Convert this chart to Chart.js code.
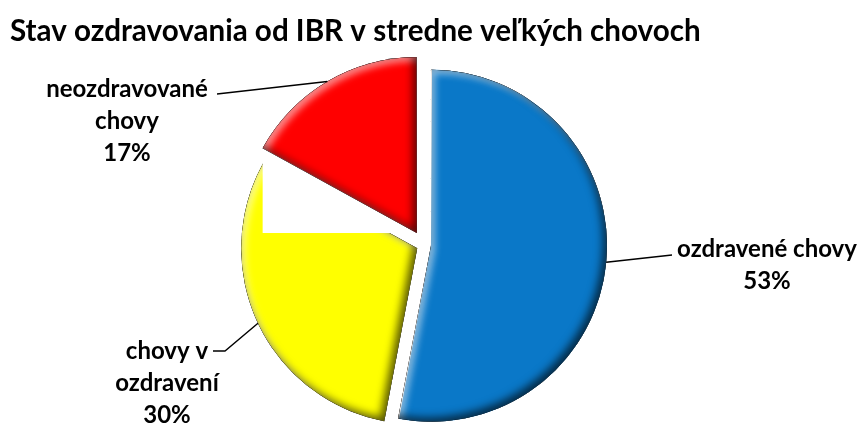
<!DOCTYPE html>
<html>
<head>
<meta charset="utf-8">
<script src="https://cdn.jsdelivr.net/npm/chart.js@4.4.1/dist/chart.umd.min.js"></script>
<style>
  html, body { margin: 0; padding: 0; background: #fff; }
  #wrap { width: 868px; height: 423px; }
</style>
</head>
<body>
<div id="wrap"><canvas id="pie" width="868" height="423"></canvas></div>
<script>
// údaje z grafu
const chartTitle = 'Stav ozdravovania od IBR v stredne veľkých chovoch';
const categories = ['ozdravené chovy', 'chovy v ozdravení', 'neozdravované chovy'];
const shares = [53, 30, 17];
const labelLines = [['ozdravené chovy'], ['chovy v', 'ozdravení'], ['neozdravované', 'chovy']];

// vzhľad
const sliceColors = ['#0A78C8', '#FFFF00', '#FF0000'];
const sliceOffsets = [28, 30, 56];
const pieRadius = 176;
const labelFont = 'bold 24px Lato';
const lineGap = 32;
// pozicie popisov (stred textu) a zlomy spojovacich ciar
const labelLayout = [
  { x: 767, y: 249, path: [[672, 255]] },
  { x: 167, y: 351, path: [[225, 351], [213, 351]] },
  { x: 127, y: 89, path: [[217, 94]] }
];

function sliceFill(ctx) {
  const color = sliceColors[ctx.dataIndex];
  const chart = ctx.chart;
  const a = chart.chartArea;
  if (!a) return color;
  const cx = (a.left + a.right) / 2, cy = (a.top + a.bottom) / 2;
  const outer = pieRadius + 20;
  const g = chart.ctx.createRadialGradient(cx, cy, 0, cx, cy, outer);
  const rgb = Chart.helpers.color(color).rgbString().replace('rgb(', '').replace(')', '');
  g.addColorStop(0, color);
  g.addColorStop((pieRadius - 0.5) / outer, color);
  g.addColorStop((pieRadius + 0.5) / outer, 'rgba(' + rgb + ',0)');
  g.addColorStop(1, 'rgba(' + rgb + ',0)');
  return g;
}

function slicePath(el) {
  const t = (el.options.offset || 0) / 4;
  const half = (el.startAngle + el.endAngle) / 2;
  const cx = el.x + Math.cos(half) * t, cy = el.y + Math.sin(half) * t;
  const p = new Path2D();
  p.moveTo(cx, cy);
  p.arc(cx, cy, pieRadius, el.startAngle, el.endAngle);
  p.closePath();
  return { p: p, cx: cx, cy: cy, half: half };
}

function innerShadow(ctx, path, dx, dy, color, blur) {
  ctx.save();
  ctx.clip(path);
  ctx.shadowColor = color;
  ctx.shadowBlur = blur;
  ctx.shadowOffsetX = dx;
  ctx.shadowOffsetY = dy;
  const outside = new Path2D();
  outside.rect(-3000, -3000, 7000, 7000);
  outside.addPath(path);
  ctx.fillStyle = '#000';
  ctx.fill(outside, 'evenodd');
  ctx.restore();
}

function bevel(ctx, el) {
  const s = slicePath(el);
  innerShadow(ctx, s.p, 4, 4, 'rgba(255,255,255,0.55)', 7);
  innerShadow(ctx, s.p, -4, -4, 'rgba(0,0,0,0.65)', 8);
}

const bevelPlugin = {
  id: 'bevel',
  afterDatasetsDraw(chart) {
    const ctx = chart.ctx;
    const arcs = chart.getDatasetMeta(0).data;
    bevel(ctx, arcs[0]);
    bevel(ctx, arcs[1]);
    // biely obdĺžnik okolo červeného výseku (ako v predlohe)
    const el = arcs[2];
    const s = slicePath(el);
    const xs = [s.cx], ys = [s.cy];
    const angs = [el.startAngle, el.endAngle];
    for (let k = -1; k <= 4; k++) {
      const a = k * Math.PI / 2;
      if (a > el.startAngle && a < el.endAngle) angs.push(a);
    }
    angs.forEach(function(a) {
      xs.push(s.cx + Math.cos(a) * pieRadius);
      ys.push(s.cy + Math.sin(a) * pieRadius);
    });
    const x0 = Math.min.apply(null, xs), x1 = Math.max.apply(null, xs);
    const y0 = Math.min.apply(null, ys), y1 = Math.max.apply(null, ys);
    ctx.save();
    ctx.fillStyle = '#fff';
    ctx.fillRect(x0, y0, x1 - x0, y1 - y0);
    ctx.restore();
    el.draw(ctx);
    bevel(ctx, el);
  }
};

const labelPlugin = {
  id: 'sliceLabels',
  afterDraw(chart) {
    const ctx = chart.ctx;
    const arcs = chart.getDatasetMeta(0).data;
    ctx.save();
    ctx.strokeStyle = '#000';
    ctx.lineWidth = 1.4;
    ctx.fillStyle = '#000';
    ctx.font = labelFont;
    ctx.textAlign = 'center';
    ctx.textBaseline = 'middle';
    arcs.forEach(function(el, i) {
      const s = slicePath(el);
      const lay = labelLayout[i];
      ctx.beginPath();
      ctx.moveTo(s.cx + Math.cos(s.half) * pieRadius, s.cy + Math.sin(s.half) * pieRadius);
      lay.path.forEach(function(pt) { ctx.lineTo(pt[0], pt[1]); });
      ctx.stroke();
      const lines = labelLines[i].concat([shares[i] + '%']);
      lines.forEach(function(txt, j) {
        ctx.fillText(txt, lay.x, lay.y + j * lineGap);
      });
    });
    ctx.restore();
  }
};

new Chart(document.getElementById('pie'), {
  type: 'pie',
  data: {
    labels: categories,
    datasets: [{
      data: shares,
      backgroundColor: sliceFill,
      borderWidth: 0,
      offset: sliceOffsets
    }]
  },
  options: {
    responsive: false,
    animation: false,
    events: [],
    radius: pieRadius,
    layout: { padding: { left: 10, right: 30, top: 0, bottom: 0 } },
    plugins: {
      legend: { display: false },
      tooltip: { enabled: false },
      title: {
        display: true,
        text: chartTitle,
        align: 'start',
        color: '#000',
        font: { family: 'Lato', size: 29.6, weight: 'bold', lineHeight: 1.2 },
        padding: { top: 14, bottom: 17.6 }
      }
    }
  },
  plugins: [bevelPlugin, labelPlugin]
});
</script>
</body>
</html>
